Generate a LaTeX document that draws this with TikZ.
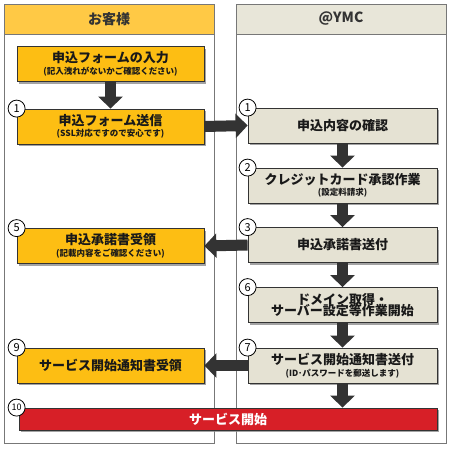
\documentclass[tikz,border=0pt]{standalone}
\usepackage{fontspec}
\setmainfont{Noto Sans CJK JP}
\usetikzlibrary{arrows.meta,shadows}
\definecolor{orng}{HTML}{FDBE13}
\definecolor{orhd}{HTML}{FFC945}
\definecolor{beig}{HTML}{E5E2D3}
\definecolor{behd}{HTML}{E8E6D9}
\definecolor{rd}{HTML}{D71F27}
\definecolor{ar}{HTML}{333333}
\definecolor{ln}{HTML}{777777}
\newcommand{\sm}[1]{{\fontsize{8.5}{9}\selectfont #1}}

\begin{document}
\begin{tikzpicture}[x=1pt,y=-1pt]

\tikzstyle{lane} = [draw=ln, line width=1pt, minimum width=210pt, minimum height=439pt, inner sep=0pt]
\tikzstyle{hd} = [draw=ln, line width=1pt, minimum width=210pt, minimum height=30pt, inner sep=0pt, font=\fontsize{14}{14}\selectfont\bfseries, text=ar]
\tikzstyle{o} = [draw=ar, fill=orng, line width=0.8pt, minimum width=187pt, minimum height=35pt, inner sep=0pt, align=center, text=black!90, font=\fontsize{13}{13.5}\selectfont\bfseries, drop shadow={shadow xshift=2pt, shadow yshift=-2pt, fill=black!45, opacity=0.8}]
\tikzstyle{g} = [o, fill=beig, minimum width=189pt]
\tikzstyle{num} = [draw=black, fill=white, line width=0.8pt, circle, minimum size=17pt, inner sep=0pt, font=\fontsize{11}{11}\selectfont]
\tikzstyle{arr} = [draw=ar, line width=11pt, -{Triangle[width=24pt,length=12pt]}]

\useasboundingbox (0,0) rectangle (450,450);

% lanes
\node[lane] (cl) at (109,223.5) {};
\node[lane] (yl) at (341,223.5) {};
\node[hd, fill=orhd] (ch) at (109,19) {お客様};
\node[hd, fill=behd] (yh) at (341,19) {@YMC};

% arrows
\coordinate (l0) at (110.5,64);
\coordinate (l1) at (110.5,126.5);
\coordinate (l5) at (110.5,246);
\coordinate (l9) at (110.5,365.5);
\coordinate (r1) at (342.5,125.5);
\coordinate (r2) at (342.5,185.5);
\coordinate (r3) at (342.5,245);
\coordinate (r6) at (342.5,305);
\coordinate (r7) at (342.5,365.5);

% customer side
\node[o] (in) at (l0) {申込フォームの入力\\[-2pt]\sm{(記入洩れがないかご確認ください)}};
\node[o] (send) at (l1) {申込フォーム送信\\[-2pt]\sm{(SSL対応ですので安心です)}};
\node[o] (recv) at (l5) {申込承諾書受領\\[-2pt]\sm{(記載内容をご確認ください)}};
\node[o] (notice) at (l9) {サービス開始通知書受領};

% YMC side
\node[g] (check) at (r1) {申込内容の確認};
\node[g] (card) at (r2) {クレジットカード承認作業\\[-3pt]\sm{(設定料請求)}};
\node[g] (accept) at (r3) {申込承諾書送付};
\node[g] (domain) at (r6) {ドメイン取得・\\[-2pt]サーバー設定等作業開始};
\node[g] (mail) at (r7) {サービス開始通知書送付\\[-2pt]\sm{(ID･パスワードを郵送します)}};

\node[o, fill=rd, text=white, minimum width=418pt, minimum height=22pt] (start) at (228,419) {サービス開始};

\draw[arr] (in.south) -- (send.north);
\draw[arr] (send.east) -- (check.west);
\draw[arr] (check.south) -- (card.north);
\draw[arr] (card.south) -- (accept.north);
\draw[arr] (accept.west) -- (recv.east);
\draw[arr] (accept.south) -- (domain.north);
\draw[arr] (domain.south) -- (mail.north);
\draw[arr] (mail.west) -- (notice.east);
\draw[arr] (mail.south) -- (mail.south |- start.north);

% step numbers
\node[num] (n1) at (send.north west) {1};
\node[num] (n1y) at (check.north west) {1};
\node[num] (n2) at (card.north west) {2};
\node[num] (n3) at (accept.north west) {3};
\node[num] (n5) at (recv.north west) {5};
\node[num] (n6) at (domain.north west) {6};
\node[num] (n7) at (mail.north west) {7};
\node[num] (n9) at (notice.north west) {9};
\node[num, font=\fontsize{9}{9}\selectfont] (n10) at ([xshift=-2pt]start.north west) {10};

\end{tikzpicture}
\end{document}
